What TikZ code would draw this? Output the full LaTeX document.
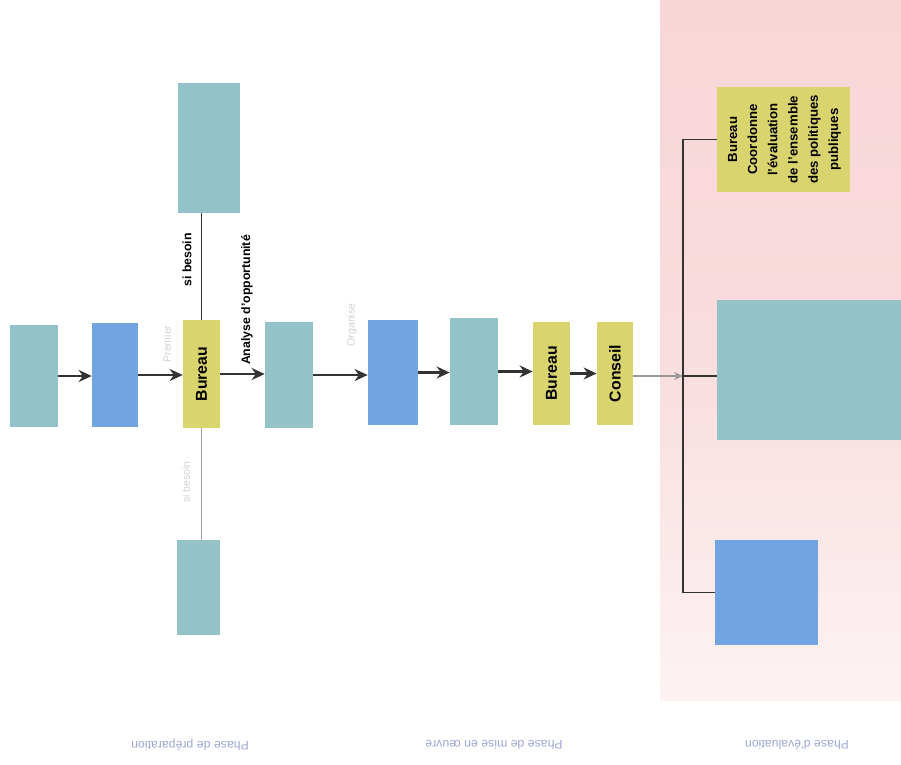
\documentclass[tikz,border=0pt]{standalone}
\usepackage{fontspec}
\setmainfont{Liberation Sans}
\usetikzlibrary{arrows.meta}

\definecolor{tealcol}{HTML}{93C2C8}
\definecolor{bluecol}{HTML}{73A4E2}
\definecolor{yellowcol}{HTML}{DAD46F}
\definecolor{pinkcol}{HTML}{F8D6D8}
\definecolor{arrowcol}{HTML}{333333}
\definecolor{phasecol}{HTML}{9DA7D6}

\tikzset{
    teal box/.style={fill=tealcol, inner sep=0pt},
    blue box/.style={fill=bluecol, inner sep=0pt},
    yellow box/.style={fill=yellowcol, inner sep=0pt, font=\bfseries\fontsize{9}{10}\selectfont},
    flow/.style={-{Stealth[length=2.6mm,width=2.4mm]}, line width=1.6pt, draw=arrowcol},
    thin flow/.style={-{Stealth[length=1.8mm,width=1.6mm]}, line width=0.6pt, draw=gray!80},
    branch/.style={line width=1pt, draw=arrowcol},
    side label/.style={rotate=90, inner sep=0pt, font=\bfseries\fontsize{7}{8}\selectfont},
    faint label/.style={rotate=90, inner sep=0pt, text=gray!35, font=\fontsize{6}{7}\selectfont},
    phase label/.style={rotate=180, inner sep=0pt, text=phasecol, font=\fontsize{7}{8}\selectfont}
}

\begin{document}
\begin{tikzpicture}[x=0.02cm, y=-0.02cm]
    \useasboundingbox (0,0) rectangle (901,764);

    %Draw the evaluation area
    \shade[top color=pinkcol, bottom color=pinkcol!30, middle color=pinkcol!85]
    (660,0) rectangle (901,700);

    %Preparation phase
    \node[teal box, minimum width=0.96cm, minimum height=2.06cm] (prepA) at (34,376) {};
    \node[blue box, minimum width=0.92cm, minimum height=2.1cm] (prepB) at (115,375) {};
    \node[yellow box, minimum width=0.74cm, minimum height=2.16cm] (bureauA) at (201.5,374) {\rotatebox{90}{Bureau}};
    \node[teal box, minimum width=1.24cm, minimum height=2.6cm] (prepUp) at (209,148) {};
    \node[teal box, minimum width=0.86cm, minimum height=1.9cm] (prepDown) at (198.5,587.5) {};
    \node[teal box, minimum width=0.96cm, minimum height=2.12cm] (prepC) at (289,375) {};

    %Implementation phase
    \node[blue box, minimum width=1cm, minimum height=2.1cm] (implA) at (393,372.5) {};
    \node[teal box, minimum width=0.96cm, minimum height=2.14cm] (implB) at (474,371.5) {};
    \node[yellow box, minimum width=0.74cm, minimum height=2.06cm] (bureauB) at (551.5,373.5) {\rotatebox{90}{Bureau}};
    \node[yellow box, minimum width=0.72cm, minimum height=2.06cm] (conseil) at (615,373.5) {\rotatebox{90}{Conseil}};

    %Evaluation phase
    \node[yellow box, minimum width=2.66cm, minimum height=2.1cm, font=\bfseries\fontsize{7.5}{11.5}\selectfont] (evalA) at (783.5,139.5)
        {\rotatebox{90}{\begin{tabular}{@{}c@{}}Bureau\\Coordonne\\l'évaluation\\de l'ensemble\\des politiques\\publiques\end{tabular}}};
    \node[teal box, minimum width=3.68cm, minimum height=2.8cm] (evalB) at (809,370) {};
    \node[blue box, minimum width=2.06cm, minimum height=2.1cm] (evalC) at (766.5,592.5) {};
    \coordinate (hub) at (683,376);

    %Connectors
    \draw[flow] (prepA.east) -- (prepA.east -| prepB.west);
    \draw[flow] (prepB.east) -- (prepB.east -| bureauA.west);
    \draw[flow] (bureauA.east) -- (bureauA.east -| prepC.west);
    \draw[flow] (prepC.east) -- (prepC.east -| implA.west);
    \draw[flow] (implA.east) -- (implA.east -| implB.west);
    \draw[flow] (implB.east) -- (implB.east -| bureauB.west);
    \draw[flow] (bureauB.east) -- (bureauB.east -| conseil.west);
    \draw[thin flow] (conseil.east |- hub) -- (hub);
    \draw[line width=0.8pt, draw=arrowcol] (bureauA.north) -- (bureauA.north |- prepUp.south);
    \draw[line width=0.6pt, draw=gray!75] (bureauA.south) -- (bureauA.south |- prepDown.north);

    %Draw the bracket
    \draw[branch] (evalA.west) -- (evalA.west -| hub) -- (evalC.west -| hub) -- (evalC.west);
    \draw[branch] (hub) -- (hub -| evalB.west);

    %Labels
    \node[side label] (besoinUp) at (187,260) {si besoin};
    \node[side label] (analyse) at (247,300) {Analyse d'opportunité};
    \node[faint label] (premier) at (167,344) {Premier};
    \node[faint label] (besoinDown) at (186,482) {si besoin};
    \node[faint label] (organise) at (352,325) {Organise};

    \node[phase label] (phasePrep) at (190,745) {Phase de préparation};
    \node[phase label] (phaseImpl) at (494,745) {Phase de mise en œuvre};
    \node[phase label] (phaseEval) at (797,745) {Phase d'évaluation};
\end{tikzpicture}
\end{document}
